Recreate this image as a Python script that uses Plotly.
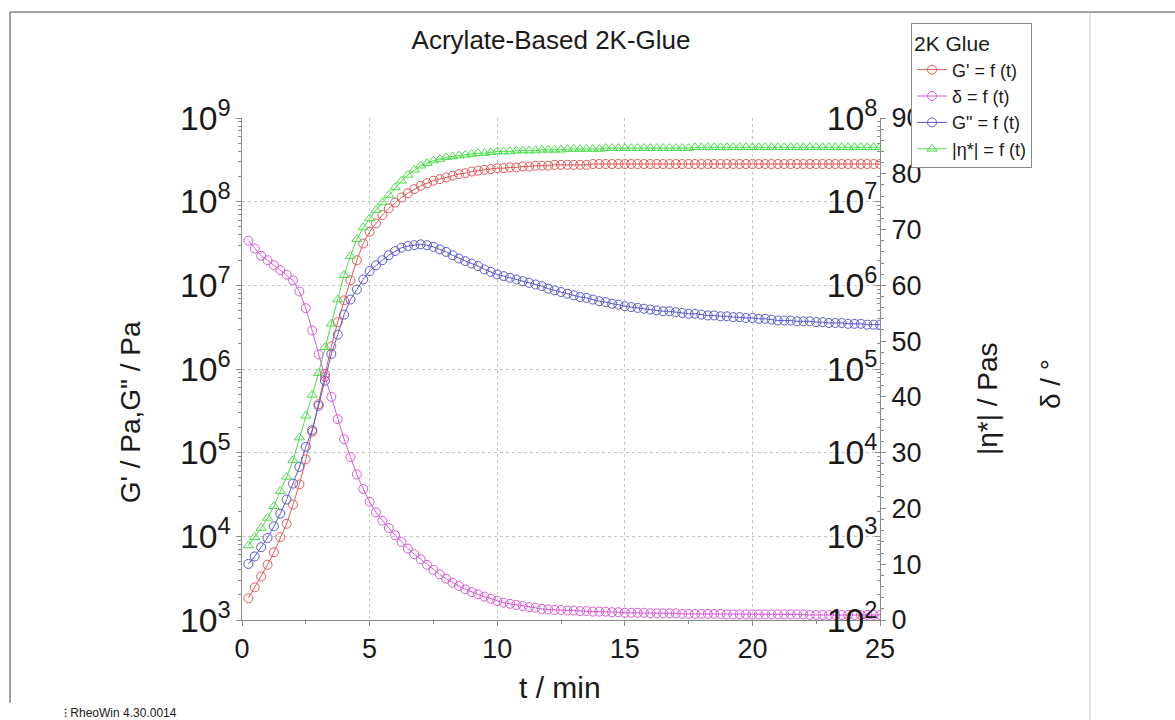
import plotly.graph_objects as go

# ---------------- data ----------------
t_min = [0.25, 0.5, 0.75, 1.0, 1.25, 1.5, 1.75, 2.0, 2.25, 2.5,
         2.75, 3.0, 3.25, 3.5, 3.75, 4.0, 4.25, 4.5, 4.75, 5.0,
         5.25, 5.5, 5.75, 6.0, 6.25, 6.5, 6.75, 7.0, 7.25, 7.5,
         7.75, 8.0, 8.25, 8.5, 8.75, 9.0, 9.25, 9.5, 9.75, 10.0,
         10.25, 10.5, 10.75, 11.0, 11.25, 11.5, 11.75, 12.0, 12.25, 12.5,
         12.75, 13.0, 13.25, 13.5, 13.75, 14.0, 14.25, 14.5, 14.75, 15.0,
         15.25, 15.5, 15.75, 16.0, 16.25, 16.5, 16.75, 17.0, 17.25, 17.5,
         17.75, 18.0, 18.25, 18.5, 18.75, 19.0, 19.25, 19.5, 19.75, 20.0,
         20.25, 20.5, 20.75, 21.0, 21.25, 21.5, 21.75, 22.0, 22.25, 22.5,
         22.75, 23.0, 23.25, 23.5, 23.75, 24.0, 24.25, 24.5, 24.75, 25.0]

# storage modulus G' (log10 of Pa)
g_storage_log10 = [3.26, 3.39, 3.52, 3.66, 3.81, 3.99, 4.15, 4.38, 4.62, 4.92,
                   5.25, 5.58, 5.94, 6.27, 6.56, 6.82, 7.06, 7.30, 7.50, 7.64,
                   7.74, 7.84, 7.92, 7.99, 8.05, 8.10, 8.15, 8.19, 8.22, 8.25,
                   8.27, 8.29, 8.31, 8.33, 8.34, 8.36, 8.37, 8.38, 8.39, 8.40,
                   8.40, 8.41, 8.41, 8.42, 8.42, 8.43, 8.43, 8.43, 8.44, 8.44,
                   8.44, 8.44, 8.44, 8.44, 8.45, 8.45, 8.45, 8.45, 8.45, 8.45,
                   8.45, 8.45, 8.45, 8.45, 8.45, 8.45, 8.45, 8.45, 8.45, 8.45,
                   8.45, 8.45, 8.45, 8.45, 8.45, 8.45, 8.45, 8.45, 8.45, 8.45,
                   8.45, 8.45, 8.45, 8.45, 8.45, 8.45, 8.45, 8.45, 8.45, 8.45,
                   8.45, 8.45, 8.45, 8.45, 8.45, 8.45, 8.45, 8.45, 8.45, 8.45]

# loss modulus G" (log10 of Pa)
g_loss_log10 = [3.67, 3.76, 3.87, 3.98, 4.12, 4.27, 4.44, 4.63, 4.83, 5.07,
                5.27, 5.56, 5.86, 6.18, 6.41, 6.65, 6.83, 6.95, 7.07, 7.17,
                7.24, 7.30, 7.36, 7.41, 7.45, 7.47, 7.48, 7.49, 7.48, 7.46,
                7.43, 7.40, 7.36, 7.32, 7.29, 7.26, 7.23, 7.19, 7.16, 7.13,
                7.11, 7.09, 7.07, 7.05, 7.03, 7.01, 6.99, 6.96, 6.94, 6.92,
                6.90, 6.88, 6.86, 6.85, 6.83, 6.81, 6.80, 6.78, 6.77, 6.75,
                6.74, 6.73, 6.72, 6.71, 6.70, 6.69, 6.69, 6.68, 6.67, 6.66,
                6.66, 6.65, 6.64, 6.64, 6.63, 6.63, 6.62, 6.62, 6.61, 6.61,
                6.60, 6.60, 6.59, 6.58, 6.58, 6.58, 6.57, 6.57, 6.57, 6.56,
                6.56, 6.55, 6.55, 6.55, 6.54, 6.54, 6.54, 6.53, 6.53, 6.53]

# complex viscosity |eta*| (log10 of Pa s)
eta_log10 = [2.89, 2.99, 3.10, 3.22, 3.36, 3.54, 3.71, 3.91, 4.18, 4.44,
             4.69, 4.95, 5.26, 5.54, 5.83, 6.12, 6.35, 6.55, 6.69, 6.80,
             6.90, 6.99, 7.08, 7.17, 7.25, 7.32, 7.38, 7.43, 7.46, 7.49,
             7.51, 7.53, 7.54, 7.55, 7.56, 7.57, 7.58, 7.58, 7.59, 7.60,
             7.60, 7.60, 7.61, 7.61, 7.61, 7.61, 7.62, 7.62, 7.62, 7.62,
             7.63, 7.63, 7.63, 7.63, 7.63, 7.63, 7.64, 7.64, 7.64, 7.64,
             7.64, 7.64, 7.64, 7.64, 7.64, 7.64, 7.64, 7.64, 7.64, 7.64,
             7.65, 7.65, 7.65, 7.65, 7.65, 7.65, 7.65, 7.65, 7.65, 7.65,
             7.65, 7.65, 7.65, 7.65, 7.65, 7.65, 7.65, 7.65, 7.65, 7.65,
             7.65, 7.65, 7.65, 7.65, 7.65, 7.65, 7.65, 7.65, 7.65, 7.65]

# phase angle delta (degrees)
delta_deg = [68.0, 66.6, 65.3, 64.5, 63.6, 62.7, 61.9, 60.9, 58.9, 55.9,
             51.9, 47.6, 43.6, 40.0, 36.0, 32.4, 29.2, 26.1, 23.5, 21.2,
             19.3, 17.8, 16.5, 15.2, 14.0, 12.8, 11.8, 10.9, 9.9, 9.0,
             8.2, 7.4, 6.7, 6.1, 5.5, 5.0, 4.6, 4.2, 3.8, 3.4,
             3.1, 2.9, 2.7, 2.5, 2.3, 2.2, 2.0, 1.9, 1.8, 1.8,
             1.7, 1.7, 1.6, 1.6, 1.5, 1.5, 1.5, 1.4, 1.4, 1.3,
             1.3, 1.3, 1.3, 1.2, 1.2, 1.2, 1.2, 1.2, 1.1, 1.1,
             1.1, 1.1, 1.1, 1.1, 1.1, 1.0, 1.0, 1.0, 1.0, 1.0,
             1.0, 1.0, 1.0, 1.0, 1.0, 1.0, 1.0, 1.0, 0.9, 0.9,
             0.9, 0.9, 0.9, 0.9, 0.9, 0.9, 0.9, 0.9, 0.9, 0.9]

g_storage = [10 ** v for v in g_storage_log10]
g_loss = [10 ** v for v in g_loss_log10]
eta = [10 ** v for v in eta_log10]

# ---------------- styling ----------------
FONT = "Liberation Sans, Arial, sans-serif"
RED = "#e05a5a"
MAGENTA = "#d65ad6"
BLUE = "#5a5acc"
GREEN = "#4ade4a"
AXIS = "#8a8a8a"
GRID = "#c4c4c4"
TXT = "#1a1a1a"


def trace(y, name, color, axis, symbol="circle-open"):
    return go.Scatter(
        x=t_min, y=y, name=name, yaxis=axis, mode="lines+markers",
        line=dict(color=color, width=1),
        marker=dict(symbol=symbol, size=9, color=color, line=dict(width=1, color=color)),
    )


fig = go.Figure()
fig.add_trace(trace(g_storage, "G' = f (t)", RED, "y"))
fig.add_trace(trace(delta_deg, "δ = f (t)", MAGENTA, "y3"))
fig.add_trace(trace(g_loss, 'G" = f (t)', BLUE, "y"))
fig.add_trace(trace(eta, "|η*| = f (t)", GREEN, "y2", symbol="triangle-up-open"))

tickfont = dict(family=FONT, size=27, color=TXT)

fig.update_layout(
    width=1175, height=720,
    margin=dict(l=242, r=295, t=118, b=100, autoexpand=False),
    paper_bgcolor="white", plot_bgcolor="white",
    font=dict(family=FONT, color=TXT),
    title=dict(text="Acrylate-Based 2K-Glue", x=0.469, xanchor="center",
               y=0.944, yanchor="middle", font=dict(family=FONT, size=26, color=TXT)),
    showlegend=True,
    legend=dict(x=1.0486, y=1.189, xanchor="left", yanchor="top",
                bgcolor="white", bordercolor="#8a8a8a", borderwidth=1,
                font=dict(family=FONT, size=18, color=TXT),
                title=dict(text="2K Glue", font=dict(family=FONT, size=21, color=TXT)),
                traceorder="normal", tracegroupgap=0),
    xaxis=dict(range=[0, 25], tickmode="linear", tick0=0, dtick=5,
               showgrid=True, gridcolor=GRID, griddash="dot", gridwidth=1,
               showline=True, linecolor=AXIS, linewidth=1, zeroline=False,
               ticks="outside", ticklen=5, tickcolor=AXIS, tickfont=tickfont,
               minor=dict(dtick=2.5, ticks="outside", ticklen=3, tickcolor=AXIS, showgrid=False)),
    yaxis=dict(type="log", range=[3, 9], dtick=1, exponentformat="power", showexponent="all",
               showgrid=True, gridcolor=GRID, griddash="dot", gridwidth=1,
               showline=True, linecolor=AXIS, linewidth=1, zeroline=False,
               ticks="outside", ticklen=5, tickcolor=AXIS, tickfont=tickfont,
               minor=dict(dtick="D1", ticks="outside", ticklen=3, tickcolor=AXIS, showgrid=False)),
    yaxis2=dict(type="log", range=[2, 8], dtick=1, exponentformat="power", showexponent="all",
                overlaying="y", side="right", anchor="x",
                ticklabelposition="inside", ticklabeloverflow="allow",
                showgrid=False, showline=True, linecolor=AXIS, linewidth=1, zeroline=False,
                ticks="inside", ticklen=5, tickcolor=AXIS, tickfont=tickfont,
                minor=dict(dtick="D1", ticks="inside", ticklen=3, tickcolor=AXIS)),
    yaxis3=dict(range=[0, 90], tickmode="linear", tick0=0, dtick=10,
                overlaying="y", side="right", anchor="x",
                showgrid=False, showline=True, linecolor=AXIS, linewidth=1, zeroline=False,
                ticks="outside", ticklen=5, tickcolor=AXIS, tickfont=tickfont,
                minor=dict(dtick=2, ticks="outside", ticklen=3, tickcolor=AXIS)),
)

ann_font = dict(family=FONT, size=28, color=TXT)
fig.add_annotation(text="G' / Pa,G\" / Pa", xref="paper", yref="paper", x=-0.1755, y=0.414,
                   textangle=-90, showarrow=False, font=ann_font, xanchor="center", yanchor="middle")
fig.add_annotation(text="t / min", xref="paper", yref="paper", x=0.498, y=-0.135,
                   showarrow=False, font=dict(family=FONT, size=30, color=TXT),
                   xanchor="center", yanchor="middle")
fig.add_annotation(text="|η*| / Pas", xref="paper", yref="paper", x=1.1677, y=0.442,
                   textangle=-90, showarrow=False, font=ann_font, xanchor="center", yanchor="middle")
fig.add_annotation(text="δ / °", xref="paper", yref="paper", x=1.2665, y=0.47,
                   textangle=-90, showarrow=False, font=ann_font, xanchor="center", yanchor="middle")
fig.add_annotation(text="⁝ RheoWin 4.30.0014", xref="paper", yref="paper", x=-0.282, y=-0.185,
                   showarrow=False, font=dict(family=FONT, size=12, color=TXT),
                   xanchor="left", yanchor="middle")

# page frame (paper coordinates: x=(px-242)/638, y=(620-py)/502)
fig.add_shape(type="line", xref="paper", yref="paper", x0=-0.3636, x1=1.4624, y0=1.211, y1=1.211,
              line=dict(color="#444444", width=1))
fig.add_shape(type="line", xref="paper", yref="paper", x0=-0.3636, x1=-0.3636, y0=1.211, y1=-0.165,
              line=dict(color="#444444", width=1))
fig.add_shape(type="line", xref="paper", yref="paper", x0=1.329, x1=1.329, y0=1.211, y1=-0.2,
              line=dict(color="#c8c8c8", width=1))

fig.write_html("out.html", config={"displayModeBar": False},
               post_script="document.body.style.margin='0';")
